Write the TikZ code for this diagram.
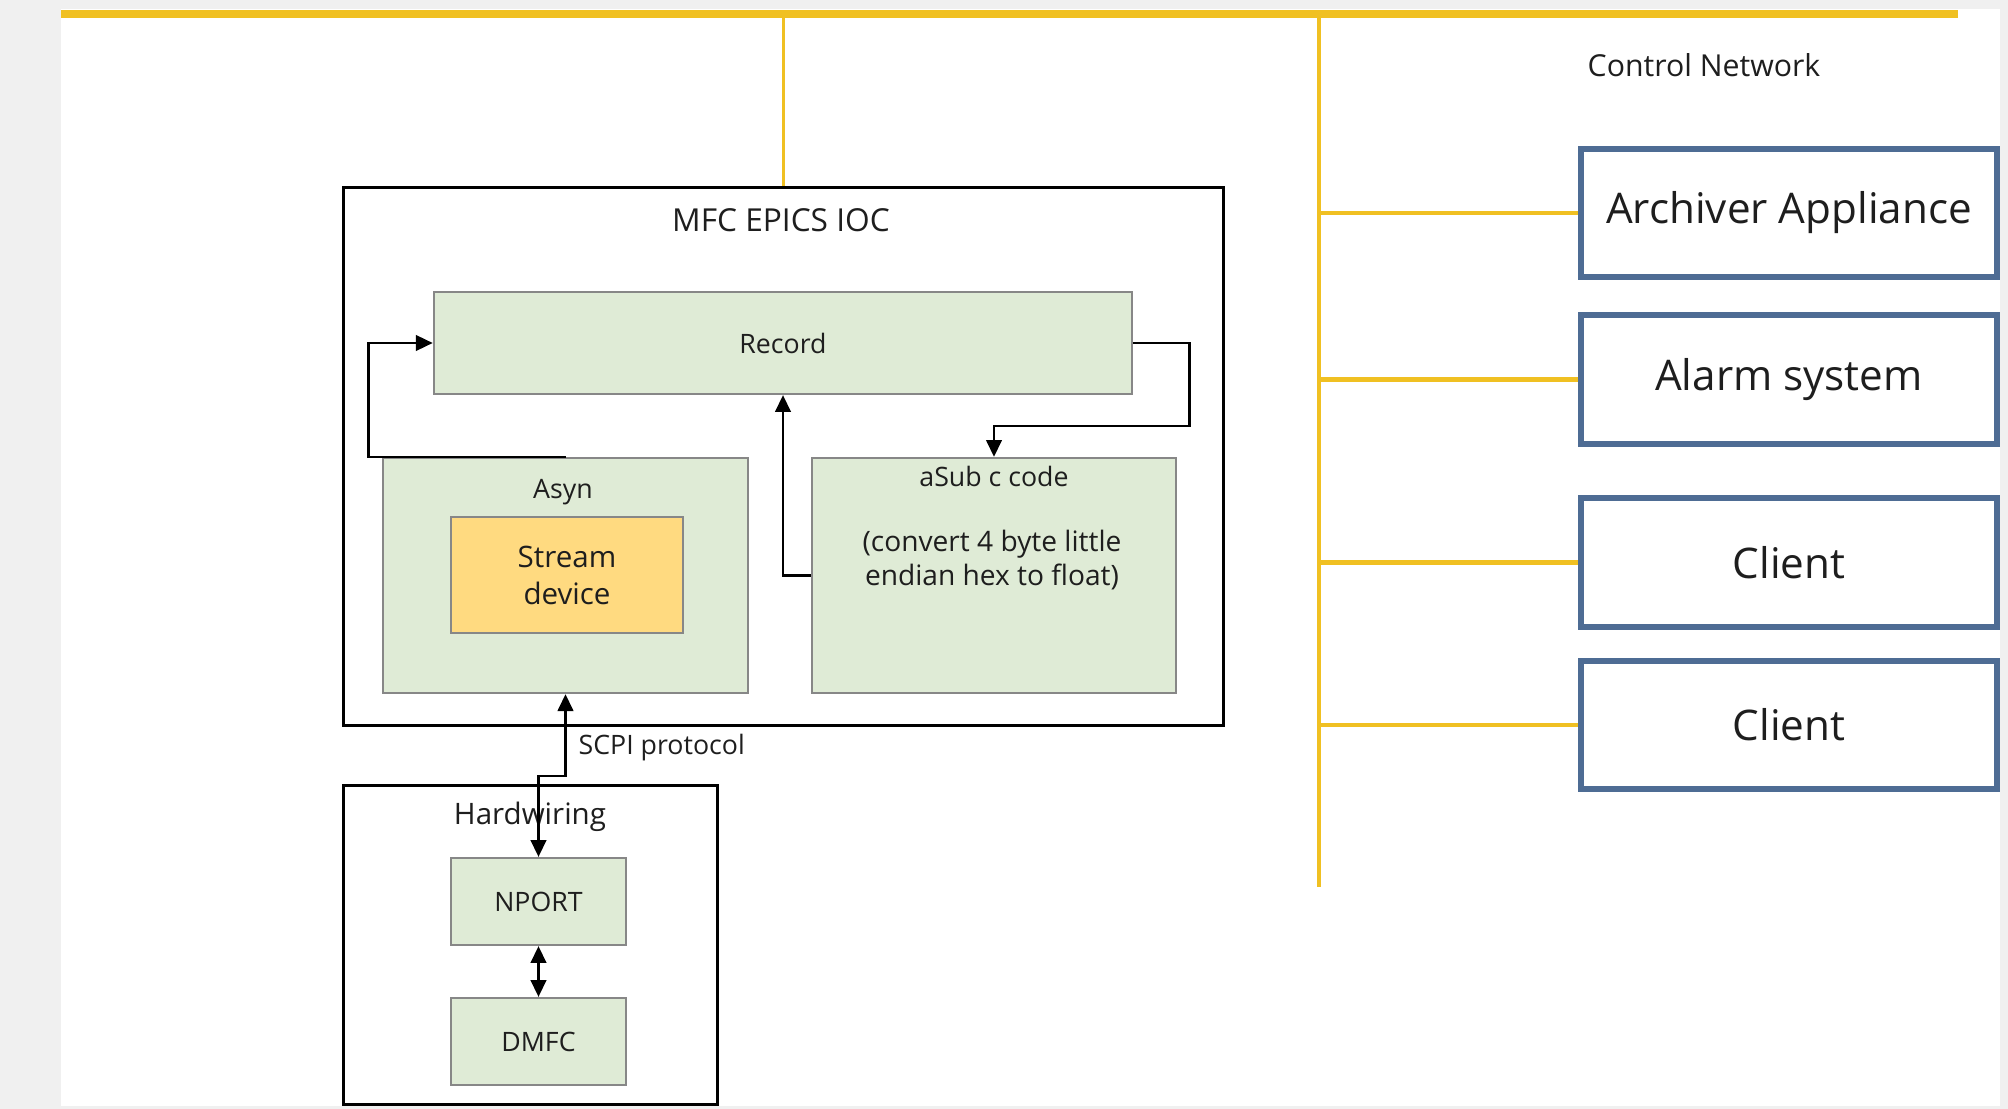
\documentclass[tikz,border=0pt]{standalone}
\usepackage{fontspec}
\setmainfont{Open Sans}
\usetikzlibrary{arrows.meta,calc}
\definecolor{bggray}{RGB}{240,240,240}
\definecolor{netyellow}{RGB}{240,192,34}
\definecolor{greenfill}{RGB}{223,235,214}
\definecolor{greenedge}{RGB}{135,135,135}
\definecolor{streamfill}{RGB}{255,218,128}
\definecolor{blueedge}{RGB}{78,108,148}
\definecolor{txt}{RGB}{30,30,30}
\newcommand{\fntsmall}{\fontsize{7.6}{10}\selectfont}
\newcommand{\fntmid}{\fontsize{8.4}{10.5}\selectfont}
\newcommand{\fntconv}{\fontsize{8}{9.6}\selectfont}
\newcommand{\fntioc}{\fontsize{9}{11}\selectfont}
\newcommand{\fntbig}{\fontsize{12}{14}\selectfont}
\begin{document}
\begin{tikzpicture}[x=0.01cm,y=-0.01cm,
  every node/.style={text=txt},
  lbl/.style={inner sep=0pt, font=\fntsmall},
  greenbox/.style={draw=greenedge, fill=greenfill, line width=0.6pt, inner sep=0pt, font=\fntsmall, align=center},
  framebox/.style={draw=black, line width=0.85pt, inner sep=0pt},
  clientbox/.style={draw=blueedge, line width=1.5pt, fill=white, inner sep=0pt, minimum width=4.16cm, font=\fntbig},
  bus/.style={draw=netyellow, line width=2.2pt},
  branch/.style={draw=netyellow, line width=1.3pt},
  arr/.style={draw=black, line width=0.75pt, -{Triangle[length=4.8pt,width=4.4pt]}},
  arrboth/.style={draw=black, line width=0.75pt, {Triangle[length=4.8pt,width=4.4pt]}-{Triangle[length=4.8pt,width=4.4pt]}}
]
\fill[bggray] (0,0) rectangle (2008,1109);
\fill[white] (61,9) rectangle (2000,1106);
\useasboundingbox (0,0) rectangle (2008,1109);

% network bus
\coordinate (busL) at (61,14);
\coordinate (busR) at (1958,14);
\coordinate (netT) at (1319,14);
\coordinate (netB) at (1319,887);

% IOC
\node[framebox, minimum width=8.79cm, minimum height=5.37cm] (ioc) at (783.5,456.5) {};
\node[inner sep=0pt, font=\fntioc] (ioclbl) at (781,220) {MFC EPICS IOC};
\node[greenbox, minimum width=6.98cm, minimum height=1.02cm] (record) at (783,343) {Record};
\node[greenbox, minimum width=3.65cm, minimum height=2.35cm] (asyn) at (565.5,575.5) {};
\node[lbl] (asynlbl) at (563,492) {Asyn};
\node[greenbox, fill=streamfill, minimum width=2.32cm, minimum height=1.16cm, font=\fntmid] (stream) at (567,575) {Stream\\device};
\node[greenbox, minimum width=3.64cm, minimum height=2.35cm] (asub) at (994,575.5) {};
\node[lbl] (asublbl) at (994,476) {aSub c code};
\node[lbl, align=center, font=\fntconv] (asubtxt) at (992,560) {(convert 4 byte little\\endian hex to float)};

% Hardwiring
\node[framebox, minimum width=3.73cm, minimum height=3.18cm] (hw) at (530.5,945) {};
\node[inner sep=0pt, font=\fntmid] (hwlbl) at (530,817) {Hardwiring};
\node[greenbox, minimum width=1.75cm, minimum height=0.87cm] (nport) at (538.5,901.5) {NPORT};
\node[greenbox, minimum width=1.75cm, minimum height=0.87cm] (dmfc) at (538.5,1041.5) {DMFC};

% right side
\node[inner sep=0pt, font=\fontsize{8.6}{10}\selectfont] (netlbl) at (1704,65) {Control Network};
\node[clientbox, minimum height=1.28cm] (arch) at (1789,213) {Archiver Appliance};
\node[clientbox, minimum height=1.29cm] (alarm) at (1789,379.5) {Alarm system};
\node[clientbox, minimum height=1.29cm] (client1) at (1789,562.5) {Client};
\node[clientbox, minimum height=1.28cm] (client2) at (1789,725) {Client};

% yellow network lines
\draw[bus] (busL) -- (busR);
\draw[draw=netyellow, line width=0.6pt] (ioc.north |- busL) -- (ioc.north);
\draw[draw=netyellow, line width=1.2pt] (netT) -- (netB);
\draw[branch] (netT |- arch.west) -- (arch.west);
\draw[branch] (netT |- alarm.west) -- (alarm.west);
\draw[branch] (netT |- client1.west) -- (client1.west);
\draw[branch] (netT |- client2.west) -- (client2.west);

% arrows
\draw[arr] (asyn.north) -- ++(-197,0) |- (record.west);
\draw[arr] (asub.west) -| (record.south);
\draw[arr] (record.east) -- ++(56,0) -- ++(0,83) -| (asub.north);
\draw[arrboth] (asyn.south) -- ++(0,82) -| (nport.north);
\node[lbl, anchor=west] (scpi) at (578,748) {SCPI protocol};
\draw[arrboth] (nport.south) -- (dmfc.north);
\end{tikzpicture}
\end{document}
